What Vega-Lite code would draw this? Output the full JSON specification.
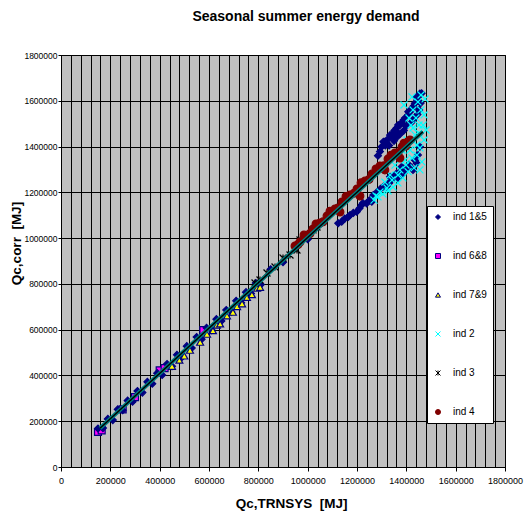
{
  "$schema": "https://vega.github.io/schema/vega-lite/v6.json",
  "width": 444,
  "height": 412,
  "autosize": "none",
  "padding": {"left": 61, "top": 55, "right": 19, "bottom": 45},
  "background": "white",
  "title": {"text": "Seasonal summer energy demand", "font": "Liberation Sans", "fontSize": 14, "fontWeight": "bold", "color": "#000", "anchor": "middle", "dx": 23, "offset": 27},
  "encoding": {
    "x": {"field": "x", "type": "quantitative", "scale": {"domain": [0, 1800000], "nice": false, "zero": false},
      "axis": {"values": [0, 40000, 80000, 120000, 160000, 200000, 240000, 280000, 320000, 360000, 400000, 440000, 480000, 520000, 560000, 600000, 640000, 680000, 720000, 760000, 800000, 840000, 880000, 920000, 960000, 1000000, 1040000, 1080000, 1120000, 1160000, 1200000, 1240000, 1280000, 1320000, 1360000, 1400000, 1440000, 1480000, 1520000, 1560000, 1600000, 1640000, 1680000, 1720000, 1760000, 1800000],
        "tickCount": 100,
        "format": "d", "labelExpr": "datum.value % 200000 === 0 ? datum.label : ''",
        "tickOpacity": {"condition": {"test": "datum.value % 200000 === 0", "value": 1}, "value": 0},
        "labelFlush": false, "labelOverlap": false, "labelPadding": 5, "gridColor": "#000",
        "title": "Qc,TRNSYS \u00a0[MJ]", "titleX": 230, "titleY": 36, "titleBaseline": "middle"}},
    "y": {"field": "y", "type": "quantitative", "scale": {"domain": [0, 1800000], "nice": false, "zero": false},
      "axis": {"values": [0, 200000, 400000, 600000, 800000, 1000000, 1200000, 1400000, 1600000, 1800000], "tickCount": 100, "format": "d", "labelPadding": 1, "labelFontSize": 8.5, "tickSize": 3,
        "title": "Qc,corr \u00a0[MJ]", "titleX": -45, "titleY": 188, "titleAngle": -90, "titleBaseline": "middle", "titleAlign": "center"}}
  },
  "layer": [
    {
      "data": {"values": [
        {"s": "ind 6&8", "x": 150000, "y": 153000},
        {"s": "ind 6&8", "x": 165000, "y": 160000},
        {"s": "ind 6&8", "x": 250000, "y": 252000},
        {"s": "ind 6&8", "x": 300000, "y": 305000},
        {"s": "ind 6&8", "x": 400000, "y": 422000},
        {"s": "ind 6&8", "x": 420000, "y": 432000},
        {"s": "ind 6&8", "x": 577000, "y": 598000},
        {"s": "ind 1&5", "x": 150000, "y": 168000},
        {"s": "ind 1&5", "x": 170000, "y": 170000},
        {"s": "ind 1&5", "x": 190000, "y": 210000},
        {"s": "ind 1&5", "x": 210000, "y": 205000},
        {"s": "ind 1&5", "x": 230000, "y": 252000},
        {"s": "ind 1&5", "x": 250000, "y": 248000},
        {"s": "ind 1&5", "x": 270000, "y": 290000},
        {"s": "ind 1&5", "x": 290000, "y": 285000},
        {"s": "ind 1&5", "x": 310000, "y": 332000},
        {"s": "ind 1&5", "x": 330000, "y": 325000},
        {"s": "ind 1&5", "x": 350000, "y": 372000},
        {"s": "ind 1&5", "x": 370000, "y": 364000},
        {"s": "ind 1&5", "x": 390000, "y": 410000},
        {"s": "ind 1&5", "x": 410000, "y": 402000},
        {"s": "ind 1&5", "x": 430000, "y": 450000},
        {"s": "ind 1&5", "x": 450000, "y": 440000},
        {"s": "ind 1&5", "x": 470000, "y": 490000},
        {"s": "ind 1&5", "x": 490000, "y": 480000},
        {"s": "ind 1&5", "x": 510000, "y": 528000},
        {"s": "ind 1&5", "x": 530000, "y": 520000},
        {"s": "ind 1&5", "x": 550000, "y": 568000},
        {"s": "ind 1&5", "x": 570000, "y": 558000},
        {"s": "ind 1&5", "x": 590000, "y": 608000},
        {"s": "ind 1&5", "x": 610000, "y": 598000},
        {"s": "ind 1&5", "x": 630000, "y": 646000},
        {"s": "ind 1&5", "x": 650000, "y": 638000},
        {"s": "ind 1&5", "x": 670000, "y": 686000},
        {"s": "ind 1&5", "x": 690000, "y": 678000},
        {"s": "ind 1&5", "x": 710000, "y": 726000},
        {"s": "ind 1&5", "x": 730000, "y": 718000},
        {"s": "ind 1&5", "x": 750000, "y": 764000},
        {"s": "ind 1&5", "x": 770000, "y": 758000},
        {"s": "ind 1&5", "x": 790000, "y": 804000},
        {"s": "ind 1&5", "x": 810000, "y": 797000},
        {"s": "ind 1&5", "x": 850000, "y": 864000},
        {"s": "ind 1&5", "x": 900000, "y": 895000},
        {"s": "ind 1&5", "x": 950000, "y": 960000},
        {"s": "ind 1&5", "x": 1000000, "y": 995000},
        {"s": "ind 1&5", "x": 1040000, "y": 1050000},
        {"s": "ind 1&5", "x": 1124000, "y": 1065000},
        {"s": "ind 1&5", "x": 1138000, "y": 1072000},
        {"s": "ind 1&5", "x": 1150000, "y": 1085000},
        {"s": "ind 1&5", "x": 1165000, "y": 1093000},
        {"s": "ind 1&5", "x": 1172000, "y": 1101000},
        {"s": "ind 1&5", "x": 1185000, "y": 1110000},
        {"s": "ind 1&5", "x": 1199000, "y": 1115000},
        {"s": "ind 1&5", "x": 1210000, "y": 1130000},
        {"s": "ind 1&5", "x": 1219000, "y": 1145000},
        {"s": "ind 1&5", "x": 1224000, "y": 1153000},
        {"s": "ind 1&5", "x": 1239000, "y": 1152000},
        {"s": "ind 1&5", "x": 1250000, "y": 1165000},
        {"s": "ind 1&5", "x": 1260000, "y": 1159000},
        {"s": "ind 1&5", "x": 1266000, "y": 1188000},
        {"s": "ind 1&5", "x": 1280000, "y": 1200000},
        {"s": "ind 1&5", "x": 1295000, "y": 1215000},
        {"s": "ind 1&5", "x": 1307000, "y": 1225000},
        {"s": "ind 1&5", "x": 1320000, "y": 1225000},
        {"s": "ind 1&5", "x": 1330000, "y": 1240000},
        {"s": "ind 1&5", "x": 1334000, "y": 1268000},
        {"s": "ind 1&5", "x": 1340000, "y": 1254000},
        {"s": "ind 1&5", "x": 1350000, "y": 1270000},
        {"s": "ind 1&5", "x": 1361000, "y": 1283000},
        {"s": "ind 1&5", "x": 1366000, "y": 1263000},
        {"s": "ind 1&5", "x": 1375000, "y": 1290000},
        {"s": "ind 1&5", "x": 1381000, "y": 1276000},
        {"s": "ind 1&5", "x": 1388000, "y": 1283000},
        {"s": "ind 1&5", "x": 1381000, "y": 1312000},
        {"s": "ind 1&5", "x": 1400000, "y": 1300000},
        {"s": "ind 1&5", "x": 1410000, "y": 1320000},
        {"s": "ind 1&5", "x": 1422000, "y": 1305000},
        {"s": "ind 1&5", "x": 1427000, "y": 1298000},
        {"s": "ind 1&5", "x": 1435000, "y": 1340000},
        {"s": "ind 1&5", "x": 1442000, "y": 1327000},
        {"s": "ind 1&5", "x": 1447000, "y": 1363000},
        {"s": "ind 1&5", "x": 1455000, "y": 1399000},
        {"s": "ind 1&5", "x": 1285000, "y": 1360000},
        {"s": "ind 1&5", "x": 1293000, "y": 1378000},
        {"s": "ind 1&5", "x": 1300000, "y": 1399000},
        {"s": "ind 1&5", "x": 1307000, "y": 1421000},
        {"s": "ind 1&5", "x": 1313000, "y": 1421000},
        {"s": "ind 1&5", "x": 1315000, "y": 1405000},
        {"s": "ind 1&5", "x": 1320000, "y": 1414000},
        {"s": "ind 1&5", "x": 1328000, "y": 1435000},
        {"s": "ind 1&5", "x": 1330000, "y": 1405000},
        {"s": "ind 1&5", "x": 1334000, "y": 1450000},
        {"s": "ind 1&5", "x": 1340000, "y": 1450000},
        {"s": "ind 1&5", "x": 1346000, "y": 1450000},
        {"s": "ind 1&5", "x": 1350000, "y": 1425000},
        {"s": "ind 1&5", "x": 1352000, "y": 1470000},
        {"s": "ind 1&5", "x": 1360000, "y": 1480000},
        {"s": "ind 1&5", "x": 1360000, "y": 1440000},
        {"s": "ind 1&5", "x": 1366000, "y": 1459000},
        {"s": "ind 1&5", "x": 1367000, "y": 1494000},
        {"s": "ind 1&5", "x": 1374000, "y": 1494000},
        {"s": "ind 1&5", "x": 1375000, "y": 1455000},
        {"s": "ind 1&5", "x": 1381000, "y": 1502000},
        {"s": "ind 1&5", "x": 1388000, "y": 1515000},
        {"s": "ind 1&5", "x": 1390000, "y": 1470000},
        {"s": "ind 1&5", "x": 1395000, "y": 1525000},
        {"s": "ind 1&5", "x": 1400000, "y": 1490000},
        {"s": "ind 1&5", "x": 1408000, "y": 1538000},
        {"s": "ind 1&5", "x": 1408000, "y": 1552000},
        {"s": "ind 1&5", "x": 1415000, "y": 1552000},
        {"s": "ind 1&5", "x": 1420000, "y": 1505000},
        {"s": "ind 1&5", "x": 1422000, "y": 1565000},
        {"s": "ind 1&5", "x": 1428000, "y": 1575000},
        {"s": "ind 1&5", "x": 1430000, "y": 1520000},
        {"s": "ind 1&5", "x": 1435000, "y": 1589000},
        {"s": "ind 1&5", "x": 1440000, "y": 1615000},
        {"s": "ind 1&5", "x": 1444000, "y": 1603000},
        {"s": "ind 1&5", "x": 1445000, "y": 1540000},
        {"s": "ind 1&5", "x": 1450000, "y": 1620000},
        {"s": "ind 1&5", "x": 1452000, "y": 1560000},
        {"s": "ind 1&5", "x": 1455000, "y": 1632000},
        {"s": "ind 1&5", "x": 1458000, "y": 1590000},
        {"s": "ind 1&5", "x": 1462000, "y": 1633000},
        {"s": "ind 7&9", "x": 450000, "y": 440000},
        {"s": "ind 7&9", "x": 480000, "y": 467000},
        {"s": "ind 7&9", "x": 500000, "y": 485000},
        {"s": "ind 7&9", "x": 523000, "y": 510000},
        {"s": "ind 7&9", "x": 564000, "y": 545000},
        {"s": "ind 7&9", "x": 592000, "y": 580000},
        {"s": "ind 7&9", "x": 616000, "y": 596000},
        {"s": "ind 7&9", "x": 632000, "y": 620000},
        {"s": "ind 7&9", "x": 645000, "y": 625000},
        {"s": "ind 7&9", "x": 673000, "y": 660000},
        {"s": "ind 7&9", "x": 697000, "y": 676000},
        {"s": "ind 7&9", "x": 714000, "y": 701000},
        {"s": "ind 7&9", "x": 734000, "y": 713000},
        {"s": "ind 7&9", "x": 754000, "y": 741000},
        {"s": "ind 7&9", "x": 774000, "y": 753000},
        {"s": "ind 7&9", "x": 795000, "y": 781000},
        {"s": "ind 7&9", "x": 807000, "y": 785000},
        {"s": "ind 2", "x": 1423000, "y": 1617000},
        {"s": "ind 2", "x": 1447000, "y": 1595000},
        {"s": "ind 2", "x": 1459000, "y": 1560000},
        {"s": "ind 2", "x": 1439000, "y": 1525000},
        {"s": "ind 2", "x": 1468000, "y": 1494000},
        {"s": "ind 2", "x": 1451000, "y": 1459000},
        {"s": "ind 2", "x": 1472000, "y": 1429000},
        {"s": "ind 2", "x": 1455000, "y": 1394000},
        {"s": "ind 2", "x": 1443000, "y": 1363000},
        {"s": "ind 2", "x": 1463000, "y": 1333000},
        {"s": "ind 2", "x": 1431000, "y": 1307000},
        {"s": "ind 2", "x": 1407000, "y": 1290000},
        {"s": "ind 2", "x": 1386000, "y": 1263000},
        {"s": "ind 2", "x": 1366000, "y": 1241000},
        {"s": "ind 2", "x": 1346000, "y": 1223000},
        {"s": "ind 2", "x": 1326000, "y": 1206000},
        {"s": "ind 2", "x": 1305000, "y": 1193000},
        {"s": "ind 2", "x": 1285000, "y": 1180000},
        {"s": "ind 2", "x": 1269000, "y": 1166000},
        {"s": "ind 2", "x": 1415000, "y": 1385000},
        {"s": "ind 2", "x": 1395000, "y": 1341000},
        {"s": "ind 2", "x": 1374000, "y": 1298000},
        {"s": "ind 2", "x": 1435000, "y": 1451000},
        {"s": "ind 2", "x": 1419000, "y": 1494000},
        {"s": "ind 2", "x": 1403000, "y": 1429000},
        {"s": "ind 2", "x": 1382000, "y": 1385000},
        {"s": "ind 2", "x": 1354000, "y": 1319000},
        {"s": "ind 2", "x": 1334000, "y": 1276000},
        {"s": "ind 2", "x": 1313000, "y": 1245000},
        {"s": "ind 2", "x": 1476000, "y": 1608000},
        {"s": "ind 2", "x": 1472000, "y": 1538000},
        {"s": "ind 2", "x": 1427000, "y": 1560000},
        {"s": "ind 2", "x": 1455000, "y": 1298000},
        {"s": "ind 2", "x": 1480000, "y": 1472000},
        {"s": "ind 2", "x": 1390500, "y": 1581600},
        {"s": "ind 2", "x": 1410800, "y": 1524800},
        {"s": "ind 2", "x": 1427000, "y": 1481100},
        {"s": "ind 2", "x": 1443200, "y": 1406800},
        {"s": "ind 2", "x": 1423000, "y": 1350000},
        {"s": "ind 2", "x": 1398600, "y": 1319400},
        {"s": "ind 2", "x": 1366200, "y": 1275700},
        {"s": "ind 2", "x": 1341900, "y": 1253900},
        {"s": "ind 2", "x": 1321600, "y": 1218900},
        {"s": "ind 2", "x": 1293200, "y": 1201500},
        {"s": "ind 2", "x": 1277000, "y": 1184000},
        {"s": "ind 2", "x": 1459400, "y": 1625300},
        {"s": "ind 2", "x": 1451300, "y": 1494200},
        {"s": "ind 3", "x": 786500, "y": 803900},
        {"s": "ind 3", "x": 806700, "y": 817000},
        {"s": "ind 3", "x": 835100, "y": 847600},
        {"s": "ind 3", "x": 867600, "y": 873800},
        {"s": "ind 3", "x": 900000, "y": 913100},
        {"s": "ind 3", "x": 928400, "y": 926200},
        {"s": "ind 3", "x": 956700, "y": 948000},
        {"s": "ind 3", "x": 968900, "y": 991800},
        {"s": "ind 3", "x": 993200, "y": 1013600},
        {"s": "ind 3", "x": 1021600, "y": 1035500},
        {"s": "ind 3", "x": 1037800, "y": 1048600}
      ]},
      "mark": {"type": "point", "filled": true, "size": 48, "strokeWidth": 1.2, "opacity": 1},
      "encoding": {
        "shape": {"field": "s", "type": "nominal", "scale": {"domain": ["ind 1&5", "ind 6&8", "ind 7&9", "ind 2", "ind 3", "ind 4"], "range": ["diamond", "square", "triangle-up", "M-1,-1L1,1M-1,1L1,-1", "M-1,-1L1,1M-1,1L1,-1M0,-1L0,1", "circle"]}, "legend": {"title": null}},
        "fill": {"field": "s", "type": "nominal", "scale": {"domain": ["ind 1&5", "ind 6&8", "ind 7&9", "ind 2", "ind 3", "ind 4"], "range": ["#000080", "#ff00ff", "#ffff00", "#00ffff", "#000000", "#800000"]}, "legend": {"title": null}},
        "stroke": {"field": "s", "type": "nominal", "scale": {"domain": ["ind 1&5", "ind 6&8", "ind 7&9", "ind 2", "ind 3", "ind 4"], "range": ["#000080", "#000080", "#000080", "#00ffff", "#000000", "#800000"]}, "legend": {"title": null}}
      }
    },
    {
      "data": {"values": [
        {"s": "ind 4", "x": 948600, "y": 965500},
        {"s": "ind 4", "x": 960800, "y": 972100},
        {"s": "ind 4", "x": 968900, "y": 983000},
        {"s": "ind 4", "x": 985100, "y": 1013600},
        {"s": "ind 4", "x": 989200, "y": 1004900},
        {"s": "ind 4", "x": 1009400, "y": 1020200},
        {"s": "ind 4", "x": 1021600, "y": 1039800},
        {"s": "ind 4", "x": 1033800, "y": 1061700},
        {"s": "ind 4", "x": 1050000, "y": 1066000},
        {"s": "ind 4", "x": 1062100, "y": 1071300},
        {"s": "ind 4", "x": 1078400, "y": 1096600},
        {"s": "ind 4", "x": 1090500, "y": 1117600},
        {"s": "ind 4", "x": 1110800, "y": 1127200},
        {"s": "ind 4", "x": 1123000, "y": 1132000},
        {"s": "ind 4", "x": 1139200, "y": 1157800},
        {"s": "ind 4", "x": 1155400, "y": 1181800},
        {"s": "ind 4", "x": 1171600, "y": 1188400},
        {"s": "ind 4", "x": 1187800, "y": 1196200},
        {"s": "ind 4", "x": 1200000, "y": 1214600},
        {"s": "ind 4", "x": 1216200, "y": 1241700},
        {"s": "ind 4", "x": 1232400, "y": 1249500},
        {"s": "ind 4", "x": 1248600, "y": 1256500},
        {"s": "ind 4", "x": 1260800, "y": 1280100},
        {"s": "ind 4", "x": 1277000, "y": 1302000},
        {"s": "ind 4", "x": 1293200, "y": 1315100},
        {"s": "ind 4", "x": 1309400, "y": 1316800},
        {"s": "ind 4", "x": 1325700, "y": 1345700},
        {"s": "ind 4", "x": 1337800, "y": 1362200},
        {"s": "ind 4", "x": 1354000, "y": 1371900},
        {"s": "ind 4", "x": 1366200, "y": 1373200},
        {"s": "ind 4", "x": 1382400, "y": 1398100},
        {"s": "ind 4", "x": 1390500, "y": 1414700},
        {"s": "ind 4", "x": 1398600, "y": 1402400},
        {"s": "ind 4", "x": 1406700, "y": 1421700},
        {"s": "ind 4", "x": 1414800, "y": 1428700},
        {"s": "ind 4", "x": 1131000, "y": 1114000},
        {"s": "ind 4", "x": 1212000, "y": 1184000},
        {"s": "ind 4", "x": 1313000, "y": 1298000},
        {"s": "ind 4", "x": 1374000, "y": 1350000}
      ]},
      "mark": {"type": "point", "filled": true, "size": 60, "strokeWidth": 1.2, "opacity": 1},
      "encoding": {
        "shape": {"field": "s", "type": "nominal", "legend": {"title": null}},
        "fill": {"field": "s", "type": "nominal", "legend": {"title": null}},
        "stroke": {"field": "s", "type": "nominal", "legend": {"title": null}}
      }
    },
    {
      "data": {"values": [{"x": 158000, "y": 169000}, {"x": 1467000, "y": 1465000}]},
      "mark": {"type": "line", "color": "#008080", "strokeWidth": 4}
    },
    {
      "data": {"values": [{"x": 158000, "y": 169000}, {"x": 1467000, "y": 1465000}]},
      "mark": {"type": "line", "color": "#000000", "strokeWidth": 1.5}
    }
  ],
  "config": {
    "view": {"fill": "#c0c0c0", "stroke": "#000", "strokeWidth": 1},
    "axis": {"labelFont": "Liberation Sans", "labelFontSize": 9, "labelColor": "#000", "titleFont": "Liberation Sans", "titleFontSize": 13.5, "titleFontWeight": "bold", "titleColor": "#000", "domainColor": "#000", "tickColor": "#000", "gridColor": "#000", "gridOpacity": 1, "tickSize": 4, "grid": true},
    "legend": {"orient": "none", "legendX": 366, "legendY": 151, "fillColor": "#fff", "strokeColor": "#000", "padding": 6, "rowPadding": 29, "labelFont": "Liberation Sans", "labelFontSize": 10, "labelColor": "#000", "symbolSize": 25, "symbolStrokeWidth": 1, "labelOffset": 10}
  }
}
